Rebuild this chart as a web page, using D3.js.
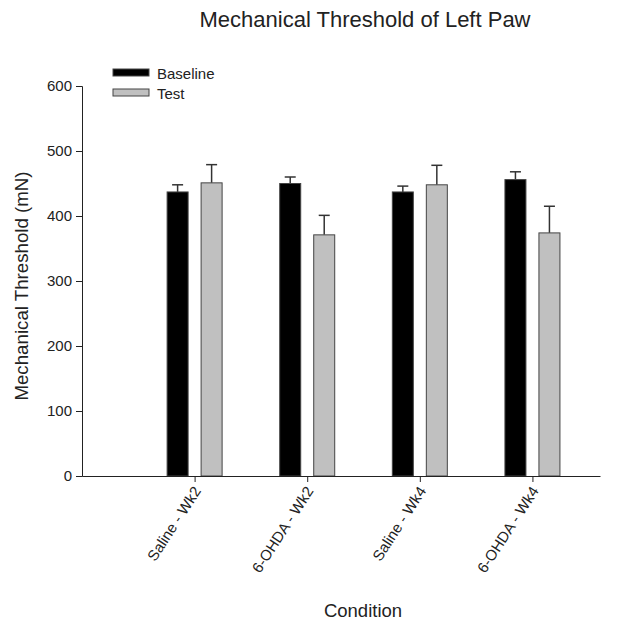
<!DOCTYPE html>
<html>
<head>
<meta charset="utf-8">
<script src="https://cdn.jsdelivr.net/npm/d3@7"></script>
<style>
  body { margin: 0; background: #fff; }
  text { font-family: "Liberation Sans", Arial, sans-serif; fill: #222; }
</style>
</head>
<body>
<div id="chart"></div>
<script>
const conditions = ["Saline - Wk2", "6-OHDA - Wk2", "Saline - Wk4", "6-OHDA - Wk4"];
const baselineMean = [437, 450, 437, 456];
const baselineErr = [11, 10, 9, 12];
const testMean = [451, 371, 448, 374];
const testErr = [28, 30, 30, 41];
const yTicks = [0, 100, 200, 300, 400, 500, 600];

const WIDTH = 636, HEIGHT = 622;
const margin = { left: 82, right: 36, top: 86, bottom: 146 };

const svg = d3.select("#chart").append("svg")
    .attr("width", WIDTH)
    .attr("height", HEIGHT);

const plotW = WIDTH - margin.left - margin.right;
const plotH = HEIGHT - margin.top - margin.bottom;

// categories sit at 1..4 on a 0..4.6 axis
const x = d3.scaleLinear().domain([0, 4.6]).range([margin.left, margin.left + plotW]);
const y = d3.scaleLinear().domain([0, 600]).range([margin.top + plotH, margin.top]);

const barW = 21, offset = 17, capW = 11;

const series = [
    { name: "Baseline", mean: baselineMean, err: baselineErr, fill: "#000000", dx: -offset },
    { name: "Test", mean: testMean, err: testErr, fill: "#c0c0c0", dx: offset }
];

series.forEach(s => {
    const g = svg.append("g");
    const data = conditions.map((c, i) => ({ i: i, mean: s.mean[i], err: s.err[i] }));

    // error bars first so the bar top covers the stem
    g.selectAll("line.stem").data(data).enter().append("line")
        .attr("x1", d => x(d.i + 1) + s.dx)
        .attr("x2", d => x(d.i + 1) + s.dx)
        .attr("y1", d => y(d.mean))
        .attr("y2", d => y(d.mean + d.err))
        .attr("stroke", "#333")
        .attr("stroke-width", 1.5);
    g.selectAll("line.cap").data(data).enter().append("line")
        .attr("x1", d => x(d.i + 1) + s.dx - capW / 2)
        .attr("x2", d => x(d.i + 1) + s.dx + capW / 2)
        .attr("y1", d => y(d.mean + d.err))
        .attr("y2", d => y(d.mean + d.err))
        .attr("stroke", "#333")
        .attr("stroke-width", 1.5);

    g.selectAll("rect").data(data).enter().append("rect")
        .attr("x", d => x(d.i + 1) + s.dx - barW / 2)
        .attr("y", d => y(d.mean))
        .attr("width", barW)
        .attr("height", d => y(0) - y(d.mean))
        .attr("fill", s.fill)
        .attr("stroke", "#444")
        .attr("stroke-width", 1);
});

// y axis
const yAxis = svg.append("g")
    .attr("transform", "translate(" + margin.left + ",0)")
    .call(d3.axisLeft(y).tickValues(yTicks).tickSize(6).tickPadding(4));
yAxis.selectAll("text").style("font-size", "15px").attr("fill", "#222");
yAxis.selectAll("line, path").attr("stroke", "#222");

// x axis
const xAxis = svg.append("g")
    .attr("transform", "translate(0," + y(0) + ")")
    .call(d3.axisBottom(x).tickValues([1, 2, 3, 4])
        .tickFormat(d => conditions[d - 1]).tickSize(6).tickSizeOuter(0));
xAxis.selectAll("text")
    .style("font-size", "15px")
    .attr("fill", "#222")
    .attr("text-anchor", "end")
    .attr("dy", "0.35em")
    .attr("transform", "translate(2,12) rotate(-57)")
    .attr("x", 0).attr("y", 0);
xAxis.selectAll("line, path").attr("stroke", "#222");

// titles
svg.append("text")
    .attr("x", 365).attr("y", 27)
    .attr("text-anchor", "middle")
    .style("font-size", "22px")
    .text("Mechanical Threshold of Left Paw");

svg.append("text")
    .attr("transform", "translate(28,286) rotate(-90)")
    .attr("text-anchor", "middle")
    .style("font-size", "18.7px")
    .text("Mechanical Threshold (mN)");

svg.append("text")
    .attr("x", 363).attr("y", 617)
    .attr("text-anchor", "middle")
    .style("font-size", "18.5px")
    .text("Condition");

// legend
const legend = svg.append("g");
series.forEach((s, i) => {
    legend.append("rect")
        .attr("x", 113).attr("y", 69 + i * 20)
        .attr("width", 36).attr("height", 7)
        .attr("fill", s.fill)
        .attr("stroke", "#444");
    legend.append("text")
        .attr("x", 157).attr("y", 79 + i * 20)
        .style("font-size", "15px")
        .text(s.name);
});
</script>
</body>
</html>
